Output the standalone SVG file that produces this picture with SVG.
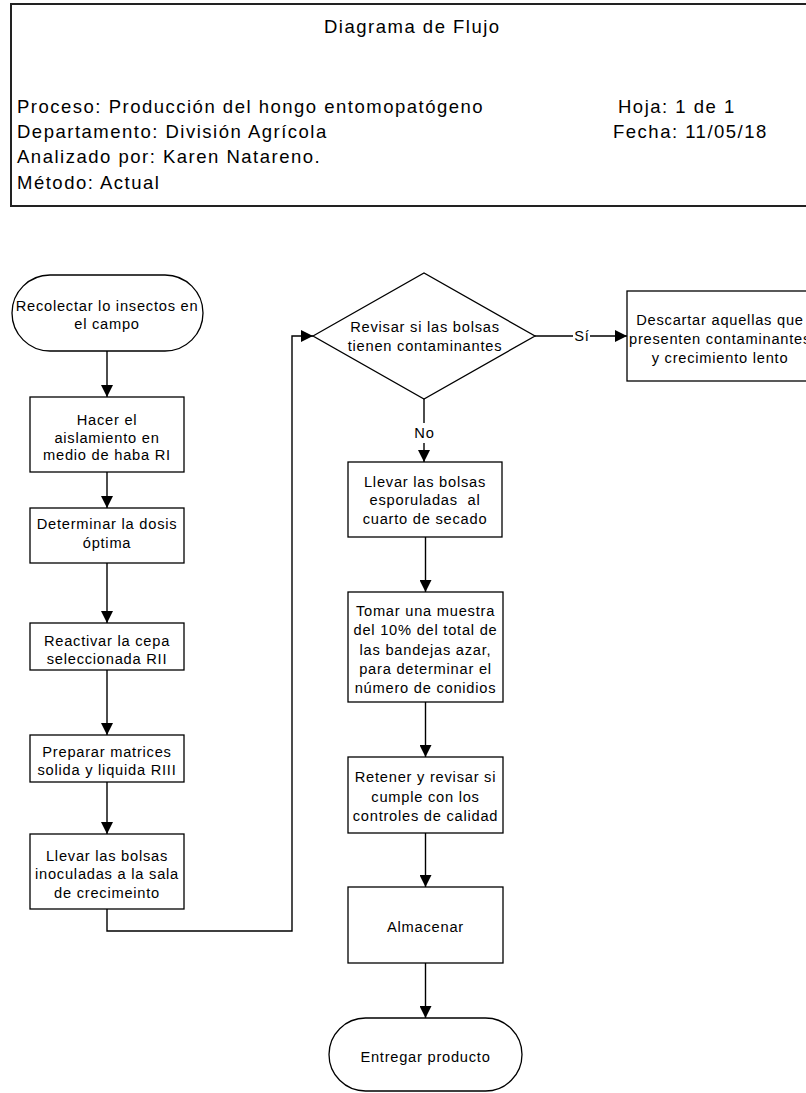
<svg xmlns="http://www.w3.org/2000/svg" width="806" height="1093" viewBox="0 0 806 1093">
<style>
.hd{font-family:"Liberation Sans",Arial,sans-serif;font-size:18.5px;letter-spacing:1.5px;fill:#000}
.t{font-family:"Liberation Sans",Arial,sans-serif;font-size:14.67px;letter-spacing:0.76px;fill:#000;text-anchor:middle}
.n{fill:#fff;stroke:#000;stroke-width:1.3}
.c{fill:none;stroke:#000;stroke-width:1.4}
</style>
<defs>
<marker id="ah" markerUnits="userSpaceOnUse" markerWidth="13" markerHeight="12" refX="12" refY="6" orient="auto">
<path d="M0,0 L12,6 L0,12 z" fill="#000"/>
</marker>
</defs>
<rect width="806" height="1093" fill="#fff"/>
<g id="header">
<rect x="11" y="4" width="805" height="202" fill="none" stroke="#222" stroke-width="2"/>
<text class="hd" x="324" y="33">Diagrama de Flujo</text>
<text class="hd" x="17" y="112.5">Proceso: Producción del hongo entomopatógeno</text>
<text class="hd" x="17" y="137.5">Departamento: División Agrícola</text>
<text class="hd" x="17" y="163">Analizado por: Karen Natareno.</text>
<text class="hd" x="17" y="188.5">Método: Actual</text>
<text class="hd" x="618" y="112.5">Hoja: 1 de 1</text>
<text class="hd" x="613" y="137.5">Fecha: 11/05/18</text>
</g>
<g id="connectors">
<line class="c" x1="107" y1="351" x2="107" y2="397" marker-end="url(#ah)"/>
<line class="c" x1="107" y1="472" x2="107" y2="508" marker-end="url(#ah)"/>
<line class="c" x1="107" y1="563" x2="107" y2="623" marker-end="url(#ah)"/>
<line class="c" x1="107" y1="670" x2="107" y2="735" marker-end="url(#ah)"/>
<line class="c" x1="107" y1="782" x2="107" y2="834" marker-end="url(#ah)"/>
<path class="c" d="M107,909 V931 H292 V336 H313" marker-end="url(#ah)"/>
<line class="c" x1="535" y1="336" x2="573" y2="336"/>
<text class="t" x="582" y="341">Sí</text>
<line class="c" x1="590" y1="336" x2="627" y2="336" marker-end="url(#ah)"/>
<line class="c" x1="424" y1="399" x2="424" y2="423"/>
<text class="t" x="424.5" y="437.5">No</text>
<line class="c" x1="424" y1="443" x2="424" y2="462" marker-end="url(#ah)"/>
<line class="c" x1="425.5" y1="537" x2="425.5" y2="592" marker-end="url(#ah)"/>
<line class="c" x1="425.5" y1="702" x2="425.5" y2="757" marker-end="url(#ah)"/>
<line class="c" x1="425.5" y1="833" x2="425.5" y2="887" marker-end="url(#ah)"/>
<line class="c" x1="425.5" y1="963" x2="425.5" y2="1018" marker-end="url(#ah)"/>
</g>
<g id="n1">
<rect class="n" x="12" y="275" width="191" height="76" rx="38" ry="38"/>
<text class="t" x="107" y="310.5">Recolectar lo insectos en</text>
<text class="t" x="107" y="328.5">el campo</text>
</g>
<g id="n2">
<rect class="n" x="30" y="397" width="154" height="75"/>
<text class="t" x="107" y="425">Hacer el</text>
<text class="t" x="107" y="443">aislamiento en</text>
<text class="t" x="107" y="460">medio de haba RI</text>
</g>
<g id="n3">
<rect class="n" x="30" y="508" width="154" height="55"/>
<text class="t" x="107" y="529">Determinar la dosis</text>
<text class="t" x="107" y="548">óptima</text>
</g>
<g id="n4">
<rect class="n" x="30" y="623" width="154" height="47"/>
<text class="t" x="107" y="645.5">Reactivar la cepa</text>
<text class="t" x="107" y="663.5">seleccionada RII</text>
</g>
<g id="n5">
<rect class="n" x="30" y="735" width="154" height="47"/>
<text class="t" x="107" y="756.5">Preparar matrices</text>
<text class="t" x="107" y="775">solida y liquida RIII</text>
</g>
<g id="n6">
<rect class="n" x="30" y="834" width="154" height="75"/>
<text class="t" x="107" y="860.5">Llevar las bolsas</text>
<text class="t" x="107" y="879">inoculadas a la sala</text>
<text class="t" x="107" y="897.5">de crecimeinto</text>
</g>
<g id="n7">
<polygon class="n" points="313,336 424,273 535,336 424,399"/>
<text class="t" x="425" y="332">Revisar si las bolsas</text>
<text class="t" x="425" y="351">tienen contaminantes</text>
</g>
<g id="n8">
<rect class="n" x="627" y="291" width="186" height="90"/>
<text class="t" x="720" y="325">Descartar aquellas que</text>
<text class="t" x="720" y="344">presenten contaminantes</text>
<text class="t" x="720" y="363">y crecimiento lento</text>
</g>
<g id="n9">
<rect class="n" x="348" y="462" width="154" height="75"/>
<text class="t" x="425" y="486.5">Llevar las bolsas</text>
<text class="t" x="425" y="505" style="white-space:pre">esporuladas  al</text>
<text class="t" x="425" y="524">cuarto de secado</text>
</g>
<g id="n10">
<rect class="n" x="348" y="592" width="155" height="110"/>
<text class="t" x="425.5" y="616">Tomar una muestra</text>
<text class="t" x="425.5" y="635">del 10% del total de</text>
<text class="t" x="425.5" y="654.5">las bandejas azar,</text>
<text class="t" x="425.5" y="674">para determinar el</text>
<text class="t" x="425.5" y="692.5">número de conidios</text>
</g>
<g id="n11">
<rect class="n" x="348" y="757" width="155" height="76"/>
<text class="t" x="425.5" y="782">Retener y revisar si</text>
<text class="t" x="425.5" y="801.5">cumple con los</text>
<text class="t" x="425.5" y="821">controles de calidad</text>
</g>
<g id="n12">
<rect class="n" x="348" y="887" width="155" height="76"/>
<text class="t" x="425.5" y="932">Almacenar</text>
</g>
<g id="n13">
<rect class="n" x="329" y="1018" width="193" height="73" rx="36.5" ry="36.5"/>
<text class="t" x="425.5" y="1062">Entregar producto</text>
</g>
</svg>
